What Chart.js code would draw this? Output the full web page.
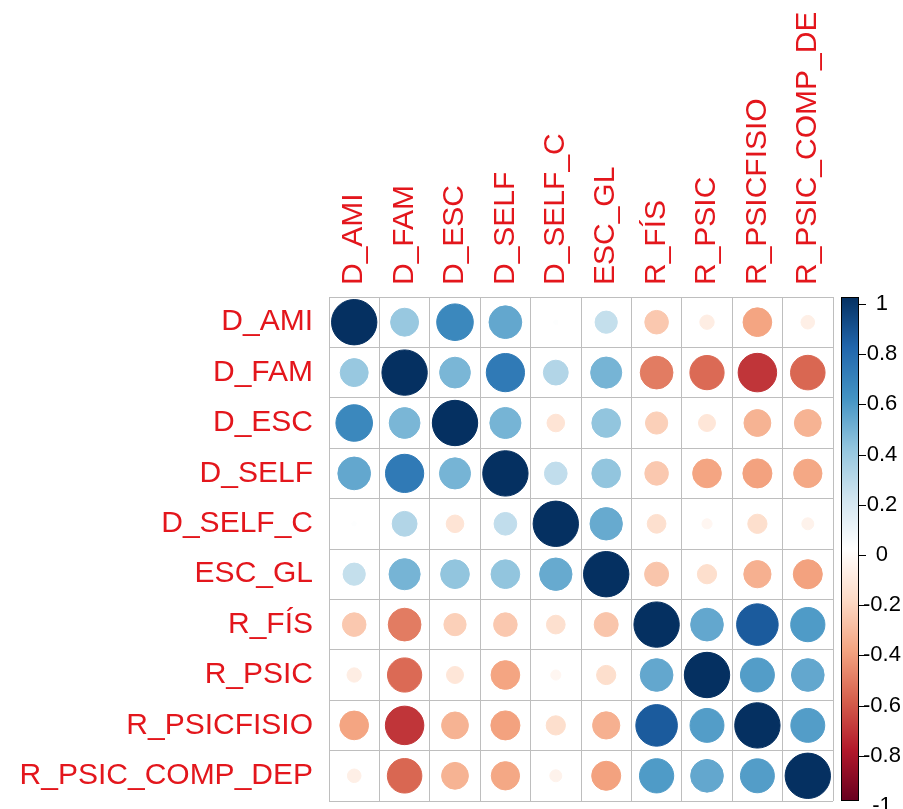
<!DOCTYPE html>
<html>
<head>
<meta charset="utf-8">
<script src="https://cdn.jsdelivr.net/npm/chart.js@4"></script>
<style>
  html, body { margin: 0; padding: 0; background: #fff; }
  #wrap { position: absolute; left: 0; top: 13px; width: 903px; height: 796px; }
</style>
</head>
<body>
<div id="wrap"><canvas id="corr" width="903" height="796"></canvas></div>
<script>
// variable names (rows and columns)
const vars = ['D_AMI', 'D_FAM', 'D_ESC', 'D_SELF', 'D_SELF_C', 'ESC_GL', 'R_FÍS', 'R_PSIC', 'R_PSICFISIO', 'R_PSIC_COMP_DEP']

// correlation rows
const rowDAmi     = [1, 0.38, 0.65, 0.52, 0.01, 0.24, -0.27, -0.10, -0.40, -0.09]
const rowDFam     = [0.38, 1, 0.46, 0.71, 0.30, 0.47, -0.52, -0.57, -0.72, -0.58]
const rowDEsc     = [0.65, 0.46, 1, 0.47, -0.15, 0.40, -0.24, -0.14, -0.35, -0.35]
const rowDSelf    = [0.52, 0.71, 0.47, 1, 0.25, 0.40, -0.27, -0.40, -0.41, -0.39]
const rowDSelfC   = [0.01, 0.30, -0.15, 0.25, 1, 0.51, -0.17, -0.05, -0.18, -0.07]
const rowEscGl    = [0.24, 0.47, 0.40, 0.40, 0.51, 1, -0.28, -0.18, -0.36, -0.41]
const rowRFis     = [-0.27, -0.52, -0.24, -0.27, -0.17, -0.28, 1, 0.52, 0.84, 0.57]
const rowRPsic    = [-0.10, -0.57, -0.14, -0.40, -0.05, -0.18, 0.52, 1, 0.56, 0.52]
const rowRPsicFis = [-0.40, -0.72, -0.35, -0.41, -0.18, -0.36, 0.84, 0.56, 1, 0.56]
const rowRComp    = [-0.09, -0.58, -0.35, -0.39, -0.07, -0.41, 0.57, 0.52, 0.56, 1]

// colour legend tick labels
const colorTicks = [1, 0.8, 0.6, 0.4, 0.2, 0, -0.2, -0.4, -0.6, -0.8, -1]

// RdBu palette, from -1 to 1
const palette = ['#67001F', '#B2182B', '#D6604D', '#F4A582', '#FDDBC7', '#FFFFFF', '#D1E5F0', '#92C5DE', '#4393C3', '#2166AC', '#053061']

const corr = [rowDAmi, rowDFam, rowDEsc, rowDSelf, rowDSelfC, rowEscGl, rowRFis, rowRPsic, rowRPsicFis, rowRComp]

const labelRed = '#e3161c'
const gridGrey = '#bebebe'


function hexToRgb(h) {
    return [parseInt(h.slice(1, 3), 16), parseInt(h.slice(3, 5), 16), parseInt(h.slice(5, 7), 16)]
}

function corrColor(v) {
    let pos = (v + 1) / 2 * (palette.length - 1)
    let i = Math.min(Math.floor(pos), palette.length - 2)
    let t = pos - i
    let a = hexToRgb(palette[i])
    let b = hexToRgb(palette[i + 1])
    let c = a.map((e, k) => Math.round(e + (b[k] - e) * t))
    return 'rgb(' + c.join(',') + ')'
}

function cellSize(chart) {
    let s = chart.scales.x
    return Math.abs(s.getPixelForValue(1) - s.getPixelForValue(0))
}

// no extra room for the end labels, the layout is fixed
function noPadding(s) {
    s.paddingTop = 0
    s.paddingBottom = 0
    s.paddingLeft = 0
    s.paddingRight = 0
}

let points = []
vars.forEach((rowName, i) => {
    corr[i].forEach((v, j) => points.push({ x: vars[j], y: rowName, v: v }))
})


// colour bar on the right, drawn against the 'cb' scale
const colorBar = {
    id: 'colorBar',
    afterDraw(chart) {
        let ctx = chart.ctx
        let a = chart.chartArea
        let cb = chart.scales.cb
        let x0 = a.right + 8
        let w = 18
        let g = ctx.createLinearGradient(0, a.top, 0, a.bottom)
        palette.forEach((c, i) => g.addColorStop(1 - i / (palette.length - 1), c))
        ctx.save()
        ctx.fillStyle = g
        ctx.fillRect(x0, a.top, w, a.bottom - a.top)
        ctx.strokeStyle = '#000'
        ctx.lineWidth = 1
        ctx.strokeRect(x0 + 0.5, a.top + 0.5, w - 1, a.bottom - a.top - 1)
        colorTicks.forEach(v => {
            let y = Math.round(cb.getPixelForValue(v)) + 0.5
            if (y < a.top || y > a.bottom) return
            ctx.beginPath()
            ctx.moveTo(x0 + w, y)
            ctx.lineTo(x0 + w + 7, y)
            ctx.stroke()
        })
        ctx.restore()
    }
}


const labelFont = { family: "'Liberation Sans', Arial, sans-serif", size: 30 }

new Chart(document.getElementById('corr'), {
    type: 'scatter',
    data: {
        datasets: [{
            data: points,
            pointRadius: c => 0.45 * cellSize(c.chart) * Math.sqrt(Math.abs(c.raw.v)),
            pointHoverRadius: c => 0.45 * cellSize(c.chart) * Math.sqrt(Math.abs(c.raw.v)),
            pointBackgroundColor: c => corrColor(c.raw.v),
            pointBorderColor: c => corrColor(c.raw.v),
            pointBorderWidth: 1
        }]
    },
    options: {
        responsive: false,
        animation: false,
        layout: { padding: { top: 0, left: 0, right: 0, bottom: 8 } },
        plugins: {
            legend: { display: false },
            tooltip: { enabled: false }
        },
        scales: {
            x: {
                type: 'category',
                labels: vars,
                position: 'top',
                offset: true,
                grid: { offset: true, color: gridGrey, drawTicks: false },
                border: { color: gridGrey },
                ticks: {
                    color: labelRed,
                    font: labelFont,
                    minRotation: 90,
                    maxRotation: 90,
                    autoSkip: false,
                    padding: 12,
                    labelOffset: 36
                },
                afterFit: s => { s.height = 284; noPadding(s) }
            },
            y: {
                type: 'category',
                labels: vars,
                offset: true,
                grid: { offset: true, color: gridGrey, drawTicks: false },
                border: { color: gridGrey },
                ticks: {
                    color: labelRed,
                    font: labelFont,
                    autoSkip: false,
                    padding: 16
                },
                afterFit: s => { s.width = 329; noPadding(s) }
            },
            cb: {
                type: 'linear',
                axis: 'y',
                position: 'right',
                min: -0.98,
                max: 1.028,
                grid: { display: false, drawTicks: false },
                border: { display: false },
                afterBuildTicks: s => { s.ticks = colorTicks.map(v => ({ value: v })) },
                ticks: {
                    color: '#000',
                    font: { family: "'Liberation Sans', Arial, sans-serif", size: 22 },
                    autoSkip: false,
                    crossAlign: 'center',
                    padding: 30,
                    callback: v => String(v)
                },
                afterFit: s => { s.width = 70; noPadding(s) }
            }
        }
    },
    plugins: [colorBar]
})
</script>
</body>
</html>
